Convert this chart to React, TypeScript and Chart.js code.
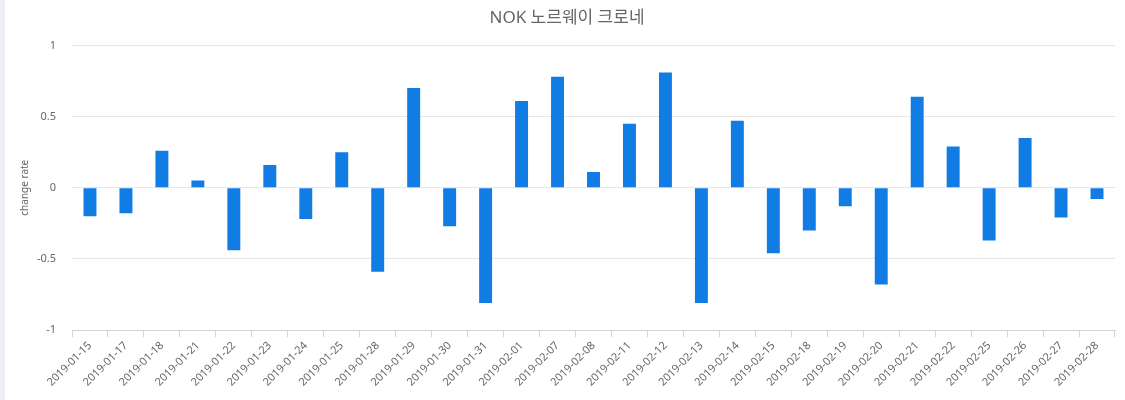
import React, { useEffect, useRef } from "react";
import { Chart, registerables } from "chart.js";

Chart.register(...registerables);

const TITLE = "NOK 노르웨이 크로네";
const Y_TITLE = "change rate";

const categories: string[] = [
  "2019-01-15", "2019-01-17", "2019-01-18", "2019-01-21", "2019-01-22",
  "2019-01-23", "2019-01-24", "2019-01-25", "2019-01-28", "2019-01-29",
  "2019-01-30", "2019-01-31", "2019-02-01", "2019-02-07", "2019-02-08",
  "2019-02-11", "2019-02-12", "2019-02-13", "2019-02-14", "2019-02-15",
  "2019-02-18", "2019-02-19", "2019-02-20", "2019-02-21", "2019-02-22",
  "2019-02-25", "2019-02-26", "2019-02-27", "2019-02-28",
];

const changeRate: number[] = [
  -0.2, -0.18, 0.26, 0.05, -0.44,
  0.16, -0.22, 0.25, -0.59, 0.7,
  -0.27, -0.81, 0.61, 0.78, 0.11,
  0.45, 0.81, -0.81, 0.47, -0.46,
  -0.3, -0.13, -0.68, 0.64, 0.29,
  -0.37, 0.35, -0.21, -0.08,
];

const yTicks: number[] = [-1, -0.5, 0, 0.5, 1];

const FONT = "'Noto Sans', 'Noto Sans CJK KR', sans-serif";

export default function App() {
  const ref = useRef<HTMLCanvasElement | null>(null);

  useEffect(() => {
    document.body.style.margin = "0";
    if (!ref.current) return;
    const chart = new Chart(ref.current, {
      type: "bar",
      data: {
        labels: categories,
        datasets: [
          {
            label: Y_TITLE,
            data: changeRate,
            backgroundColor: "#107ce4",
            borderWidth: 0,
            categoryPercentage: 1,
            barPercentage: 0.36,
          },
        ],
      },
      options: {
        animation: false,
        responsive: false,
        maintainAspectRatio: false,
        layout: { padding: { top: 5, right: 10, left: 14, bottom: 9 } },
        plugins: {
          legend: { display: false },
          tooltip: { enabled: false },
          title: {
            display: true,
            text: TITLE,
            color: "#666666",
            font: { family: FONT, size: 17, weight: "normal" },
            padding: { top: 3, bottom: 17 },
          },
        },
        scales: {
          x: {
            grid: {
              display: true,
              drawOnChartArea: false,
              drawTicks: true,
              tickLength: 7,
              color: "#cfd3dc",
              offset: true,
            },
            border: { display: true, color: "#cfd3dc" },
            ticks: {
              autoSkip: false,
              maxRotation: 45,
              minRotation: 45,
              color: "#666666",
              font: { family: FONT, size: 11 },
              padding: 2,
            },
          },
          y: {
            min: -1,
            max: 1,
            afterBuildTicks: (axis: any) => {
              axis.ticks = yTicks.map((v) => ({ value: v }));
            },
            afterFit: (axis: any) => {
              axis.width = 53;
            },
            grid: {
              color: "#e6e6e6",
              drawTicks: false,
            },
            border: { display: false },
            ticks: {
              color: "#666666",
              font: { family: FONT, size: 11 },
              padding: 16,
              callback: (v: any) => String(v),
            },
            title: {
              display: true,
              text: Y_TITLE,
              color: "#666666",
              font: { family: FONT, size: 10 },
              padding: { top: 0, bottom: 0 },
            },
          },
        },
      },
    });
    return () => chart.destroy();
  }, []);

  return (
    <div
      style={{
        position: "absolute",
        left: 0,
        top: 0,
        width: 1125,
        height: 400,
        background: "#ffffff",
        overflow: "hidden",
      }}
    >
      <div
        style={{
          position: "absolute",
          left: 0,
          top: 0,
          width: 5,
          height: 400,
          background: "#eceef3",
        }}
      />
      <canvas
        ref={ref}
        width={1120}
        height={400}
        style={{ position: "absolute", left: 5, top: 0, width: 1120, height: 400 }}
      />
    </div>
  );
}
